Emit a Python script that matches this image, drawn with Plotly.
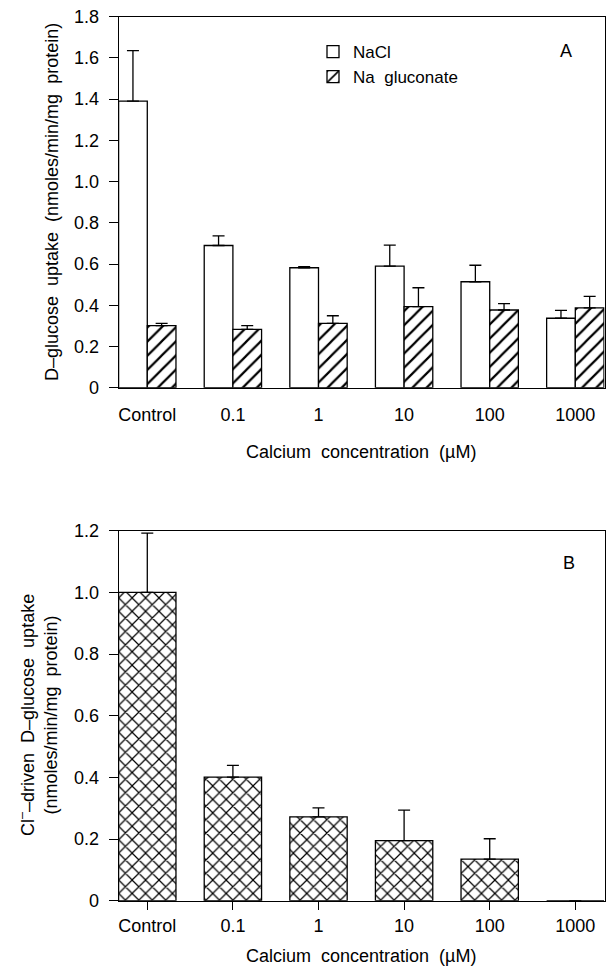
import plotly.graph_objects as go

# Calcium concentrations (µM) on the category axis
categories = ["Control", "0.1", "1", "10", "100", "1000"]

# Panel A: D-glucose uptake (nmoles/min/mg protein)
nacl_mean = [1.39, 0.69, 0.582, 0.59, 0.514, 0.337]
nacl_sem = [0.245, 0.047, 0.005, 0.102, 0.08, 0.038]
gluc_mean = [0.301, 0.283, 0.312, 0.393, 0.377, 0.387]
gluc_sem = [0.011, 0.018, 0.037, 0.092, 0.031, 0.056]

# Panel B: Cl- driven D-glucose uptake
cl_mean = [1.0, 0.401, 0.272, 0.195, 0.135, 0.0]
cl_sem = [0.192, 0.038, 0.029, 0.099, 0.066, None]

W, H = 606, 966
FONT = "Liberation Sans"
FS = 18


def px_x(v):
    return v / W


def px_y(v):
    return 1 - v / H


line_w = 1.3
err_style = dict(type="data", symmetric=False, thickness=line_w, width=6, color="black")

fig = go.Figure()

fig.add_trace(go.Bar(
    x=categories, y=nacl_mean, name="NaCl",
    marker=dict(color="white", line=dict(color="black", width=line_w)),
    error_y=dict(array=nacl_sem, arrayminus=[0] * len(nacl_sem), **err_style),
    xaxis="x", yaxis="y", legendgroup="a",
))
fig.add_trace(go.Bar(
    x=categories, y=gluc_mean, name="Na  gluconate",
    marker=dict(color="white", line=dict(color="black", width=line_w),
                pattern=dict(shape="/", size=10, solidity=0.22,
                             fgcolor="black", bgcolor="white", fgopacity=1)),
    error_y=dict(array=gluc_sem, arrayminus=[0] * len(gluc_sem), **err_style),
    xaxis="x", yaxis="y", legendgroup="b",
))
fig.add_trace(go.Bar(
    x=categories, y=cl_mean, name="Cl- driven", showlegend=False,
    marker=dict(color="white", line=dict(color="black", width=line_w),
                pattern=dict(shape="x", size=9.5, solidity=0.24,
                             fgcolor="black", bgcolor="white", fgopacity=1)),
    error_y=dict(array=cl_sem, arrayminus=[0] * len(cl_sem), **err_style),
    xaxis="x2", yaxis="y2",
))

xdom = [px_x(118.7), px_x(604.5)]
xrange = [-0.334, 5.341]
tickfont = dict(family=FONT, size=FS, color="black")

common_axis = dict(showline=True, linecolor="black", linewidth=line_w,
                   mirror=True, showgrid=False, zeroline=False, automargin=False)

ya_vals = [0, 0.2, 0.4, 0.6, 0.8, 1.0, 1.2, 1.4, 1.6, 1.8]
ya_text = ["0", "0.2", "0.4", "0.6", "0.8", "1.0", "1.2", "1.4", "1.6", "1.8"]
yb_vals = [0, 0.2, 0.4, 0.6, 0.8, 1.0, 1.2]
yb_text = ["0", "0.2", "0.4", "0.6", "0.8", "1.0", "1.2"]

fig.update_layout(
    width=W, height=H,
    margin=dict(l=0, r=0, t=0, b=0, pad=0, autoexpand=False),
    paper_bgcolor="white", plot_bgcolor="white",
    barmode="group", bargap=0.33, bargroupgap=0,
    font=dict(family=FONT, size=FS, color="black"),
    xaxis=dict(domain=xdom, anchor="y", type="category",
               categoryorder="array", categoryarray=categories,
               range=xrange, ticks="", tickfont=tickfont,
               ticklabelstandoff=11, **common_axis),
    yaxis=dict(domain=[px_y(387.7), px_y(16.7)], anchor="x",
               range=[0, 1.8], tickvals=ya_vals, ticktext=ya_text,
               ticks="outside", ticklen=9, tickwidth=line_w, tickcolor="black",
               tickfont=tickfont, ticklabelstandoff=6, **common_axis),
    xaxis2=dict(domain=xdom, anchor="y2", type="category",
                categoryorder="array", categoryarray=categories,
                range=xrange, ticks="outside", ticklen=8, tickwidth=line_w,
                tickcolor="black", tickfont=tickfont, ticklabelstandoff=1,
                **common_axis),
    yaxis2=dict(domain=[px_y(900.7), px_y(530.7)], anchor="x2",
                range=[0, 1.2], tickvals=yb_vals, ticktext=yb_text,
                ticks="outside", ticklen=9, tickwidth=line_w, tickcolor="black",
                tickfont=tickfont, ticklabelstandoff=6, **common_axis),
    legend=dict(x=px_x(313), y=px_y(34), xanchor="left", yanchor="top",
                bgcolor="rgba(0,0,0,0)", borderwidth=0,
                font=dict(family=FONT, size=17, color="black"),
                traceorder="grouped", tracegroupgap=0),
)

annotations = [
    dict(text="A", x=px_x(566), y=px_y(51)),
    dict(text="B", x=px_x(569), y=px_y(563)),
    dict(text="Calcium  concentration  (µM)", x=px_x(361), y=px_y(452)),
    dict(text="Calcium  concentration  (µM)", x=px_x(361), y=px_y(956)),
    dict(text="D–glucose  uptake  (nmoles/min/mg  protein)",
         x=px_x(52), y=px_y(202), textangle=-90),
    dict(text="Cl<sup>–</sup>–driven  D–glucose  uptake<br>(nmoles/min/mg  protein)",
         x=px_x(38), y=px_y(715), textangle=-90),
]
for a in annotations:
    fig.add_annotation(xref="paper", yref="paper", showarrow=False,
                       xanchor="center", yanchor="middle",
                       font=dict(family=FONT, size=FS, color="black"), **a)

fig.write_html("out.html")
